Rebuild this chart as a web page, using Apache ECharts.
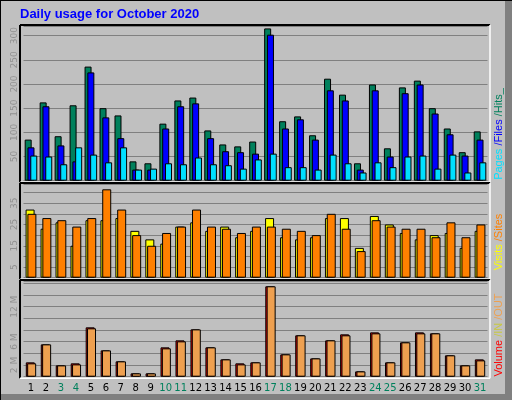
<!DOCTYPE html>
<html><head><meta charset="utf-8">
<script src="https://cdn.jsdelivr.net/npm/echarts@6/dist/echarts.min.js"></script>
<style>html,body{margin:0;padding:0;background:#c0c0c0}#c{width:512px;height:400px}</style>
</head><body><div id="c"></div>
<script>
const days = ['1','2','3','4','5','6','7','8','9','10','11','12','13','14','15','16','17','18','19','20','21','22','23','24','25','26','27','28','29','30','31'];
const weekend = ['3','4','10','11','17','18','24','25','31'];
const hits  = [85,162,92,156,236,150,135,40,36,118,166,172,104,75,71,81,315,123,133,94,211,178,36,199,67,193,207,150,108,59,102];
const files = [69,154,73,40,224,131,88,23,23,108,154,160,88,61,59,56,302,108,127,85,187,166,23,187,50,181,199,139,96,52,85];
const pages = [52,50,34,69,54,38,69,23,25,36,34,48,34,32,25,44,56,28,28,23,54,36,17,38,28,50,52,25,54,17,38];
const visits = [32,23,26,15,27,27,28,22,18,16,24,26,22,24,19,22,28,19,18,19,28,28,14,29,25,21,18,20,21,14,22];
const sites  = [30,28,27,24,28,41.5,32,20,15,21,24,32,24,23,21,24,24,23,22,20,30,23,12.5,27,24,23,23,19,26,19,25];
const volIn  = [2.46,5.54,1.94,2.29,8.46,4.51,2.63,0.57,0.57,5.03,6.23,8.11,5.03,2.97,2.29,2.46,15.49,3.83,7.09,3.14,6.23,7.26,0.91,7.6,2.46,5.89,7.6,7.43,3.66,1.94,2.97];
const volOut = [2.29,5.54,1.94,2.11,8.29,4.51,2.63,0.57,0.57,4.86,6.06,8.11,5.03,2.97,2.11,2.46,15.49,3.83,7.09,3.14,6.23,7.09,0.91,7.43,2.46,5.89,7.43,7.43,3.66,1.94,2.8];
const volTicks = [2,6,12];

const ch = echarts.init(document.getElementById('c'));
const L = 23.5, W = 464;
const grids = [
  {left:L, width:W, top:26, height:154.7},
  {left:L, width:W, top:184, height:93.7},
  {left:L, width:W, top:281, height:95.7}
];
function xAx(i, show){return {type:'category', gridIndex:i, data:days, axisLine:{show:false}, axisTick:{show:false},
  axisLabel:{show:show, interval:0, fontSize:10, fontFamily:'DejaVu Sans', margin:7, color:(v)=>weekend.includes(v)?'#00805c':'#000'}}}
const yl = {rotate:90, color:'#909090', fontSize:9, fontFamily:'DejaVu Sans', margin:4};
const gl = {show:true, lineStyle:{color:'#808080', width:1}};
function yAx(i, max, interval, fmt){return {type:'value', gridIndex:i, min:0, max:max, interval:interval, axisLine:{show:false}, axisTick:{show:false}, splitLine:gl, axisLabel:Object.assign({formatter:fmt}, yl)}}
const bs = {borderColor:'#000', borderWidth:1};
function bar(name, data, color, xi, w, gap){return {name, type:'bar', data, xAxisIndex:xi, yAxisIndex:xi, barWidth:w, barGap:gap, itemStyle:Object.assign({color}, bs), animation:false}}

function frame(g){
  const x1=20, x2=490, y1=g.top-1, y2=g.top+g.height+1.5;
  return [
    {type:'line', shape:{x1:x1,y1:y1,x2:x2,y2:y1}, style:{stroke:'#000',lineWidth:2}},
    {type:'line', shape:{x1:x1,y1:y1,x2:x1,y2:y2}, style:{stroke:'#000',lineWidth:2}},
    {type:'line', shape:{x1:x1,y1:y2,x2:x2,y2:y2}, style:{stroke:'#fff',lineWidth:1.5}},
    {type:'line', shape:{x1:x2,y1:y1,x2:x2,y2:y2}, style:{stroke:'#fff',lineWidth:1.5}}
  ];
}
const fs = 11;
function sideText(y, rich, text){return {type:'text', x:499, y:y, rotation:Math.PI/2, z:10,
  style:{text, rich, fontSize:fs, fontFamily:'DejaVu Sans', align:'center', verticalAlign:'middle'}}}

ch.setOption({
  backgroundColor:'#c0c0c0',
  grid:grids,
  xAxis:[xAx(0,false), xAx(1,false), xAx(2,true)],
  yAxis:[
    yAx(0, 320, 50, v=>(v>0&&v<=300)?String(v):''),
    yAx(1, 44, 5, v=>(v%10===5)?String(v):''),
    yAx(2, 16.4, 2, v=>volTicks.includes(v)?v+' M':'')
  ],
  series:[
    bar('Hits', hits, '#00805c', 0, 7, '-60%'),
    bar('Files', files, '#0000ff', 0, 7, '-60%'),
    bar('Pages', pages, '#00e0ff', 0, 7, '-60%'),
    bar('Visits', visits, '#ffff00', 1, 9, '-80%'),
    bar('Sites', sites, '#ff8000', 1, 9, '-80%'),
    bar('Volume', volIn, '#ff0000', 2, 9, '-85%'),
    bar('OUT', volOut, '#eea050', 2, 9, '-85%')
  ],
  graphic:[
    {type:'rect', shape:{x:0,y:0,width:512,height:400}, style:{fill:'none', stroke:'#000', lineWidth:2}, z:-1},
    {type:'rect', shape:{x:505,y:1,width:7,height:399}, style:{fill:'#808080'}, z:-1},
    {type:'rect', shape:{x:1,y:394,width:511,height:6}, style:{fill:'#808080'}, z:-1},
    {type:'text', x:20, y:8, style:{text:'Daily usage for October 2020', fill:'#0000ff', fontSize:13, fontWeight:'bold', fontFamily:'Liberation Sans'}},
    ...frame(grids[0]), ...frame(grids[1]), ...frame(grids[2]),
    sideText(134, {a:{fill:'#00e0ff',fontSize:fs},b:{fill:'#0000ff',fontSize:fs},c:{fill:'#00805c',fontSize:fs}}, '{a|Pages }{b|/Files }{c|/Hits_}'),
    sideText(242, {a:{fill:'#ffff00',fontSize:fs},b:{fill:'#ff8000',fontSize:fs}}, '{a|Visits }{b|/Sites}'),
    sideText(335, {a:{fill:'#ff0000',fontSize:fs},b:{fill:'#c8c840',fontSize:fs},c:{fill:'#eea050',fontSize:fs}}, '{a|Volume }{b|/IN }{c|/OUT}')
  ]
});
</script></body></html>
